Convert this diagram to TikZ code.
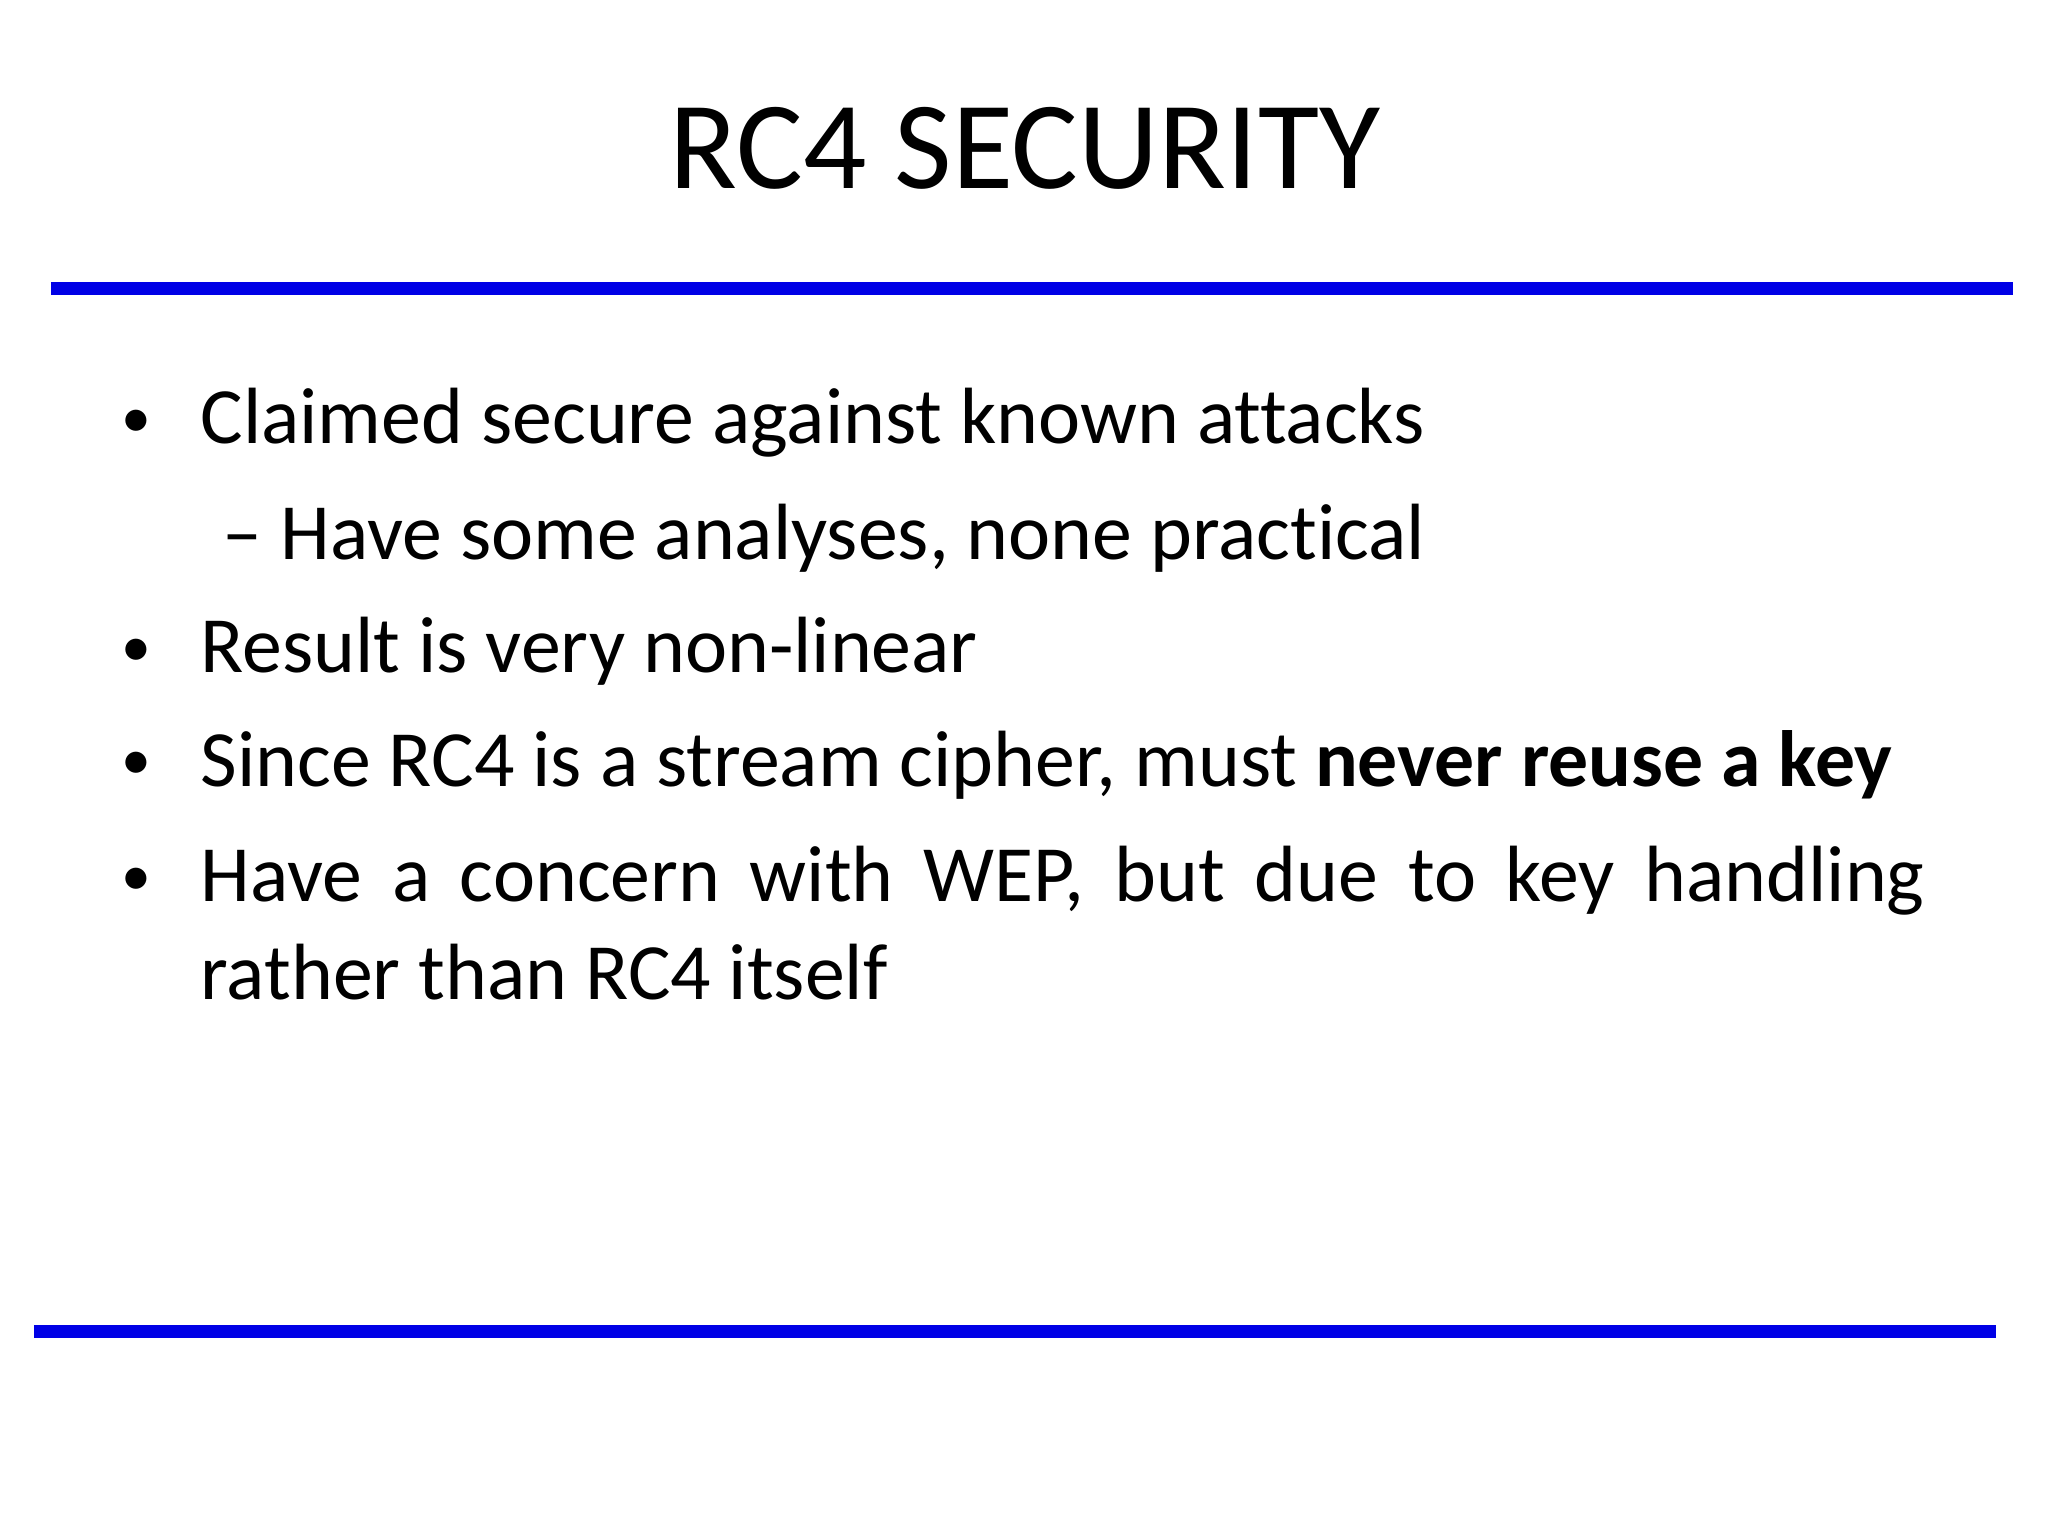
\documentclass[tikz,border=0pt]{standalone}
\usepackage{fontspec}
\setmainfont[Ligatures={NoCommon}]{Carlito}
\begin{document}
\begin{tikzpicture}[x=1cm,y=-1cm,
  rule/.style={draw={rgb,255:red,0;green,0;blue,230},line width=0.13cm},
  body/.style={anchor=base west,inner sep=0pt,font=\fontsize{22.7}{27}\selectfont},
  bul/.style={anchor=base,inner sep=0pt,font=\fontsize{17}{20}\selectfont}]
\useasboundingbox (0,0) rectangle (20.48,15.36);
\node[anchor=base,inner sep=0pt,font=\fontsize{35.6}{42}\selectfont] (title) at (10.25,1.89) {RC4 SECURITY};
\coordinate (t1) at (0.51,2.89); \coordinate (t2) at (20.13,2.89);
\draw[rule] (t1) -- (t2);
\coordinate (b1) at (0.34,13.31); \coordinate (b2) at (19.96,13.31);
\draw[rule] (b1) -- (b2);
\node[bul] (d1) at (1.36,4.38) {•};
\node[body] (l1) at (2.0,4.44) {Claimed secure against known attacks};
\node[body] (l2) at (2.22,5.59) {– Have some analyses, none practical};
\node[bul] (d3) at (1.36,6.67) {•};
\node[body] (l3) at (2.0,6.73) {Result is very non-linear};
\node[bul] (d4) at (1.36,7.80) {•};
\node[body] (l4) at (2.0,7.86) {Since RC4 is a stream cipher, must \textbf{never reuse a key}};
\node[bul] (d5) at (1.36,8.95) {•};
\node[body] (l5) at (2.0,9.01) {\makebox[17.24cm][s]{Have a concern with WEP, but due to key handling}};
\node[body] (l6) at (2.0,9.99) {rather than RC4 itself};
\end{tikzpicture}
\end{document}
